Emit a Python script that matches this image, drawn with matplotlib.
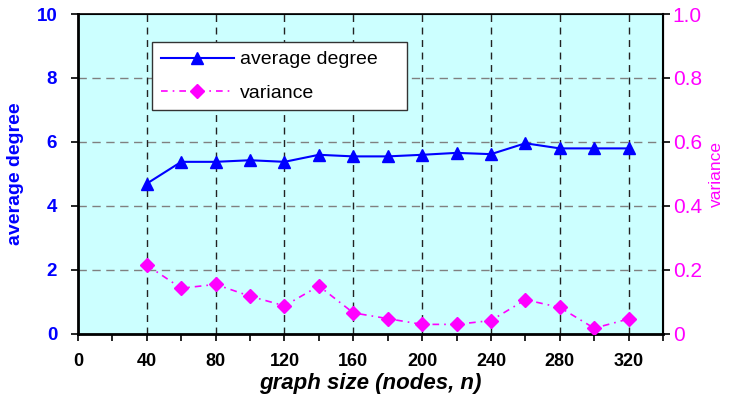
import matplotlib.pyplot as plt
from matplotlib.ticker import MultipleLocator

# graph size vs. average degree and its variance
nodes = [40, 60, 80, 100, 120, 140, 160, 180, 200, 220, 240, 260, 280, 300, 320]
avg_degree = [4.7, 5.38, 5.38, 5.43, 5.38, 5.6, 5.55, 5.55, 5.6, 5.66, 5.62, 5.96, 5.8, 5.8, 5.8]
variance = [0.215, 0.143, 0.155, 0.118, 0.088, 0.15, 0.066, 0.048, 0.03, 0.03, 0.042, 0.107, 0.083, 0.018, 0.047]
var_ticks = [0, 0.2, 0.4, 0.6, 0.8, 1.0]
var_labels = ['0', '0.2', '0.4', '0.6', '0.8', '1.0']

blue = '#0000ff'
pink = '#ff00ff'
plt.rcParams['font.family'] = ['Liberation Sans', 'DejaVu Sans']

fig = plt.figure(figsize=(7.34, 4.07), dpi=100)
ax = fig.add_axes([0.1063, 0.1794, 0.797, 0.7862])
ax.set_facecolor('#ccffff')
ax2 = ax.twinx()

ax.set_xlim(0, 340)
ax.set_ylim(0, 10)
ax2.set_ylim(0, 1.0)

# grid: grey dashed horizontals, black dashed verticals
for y in [2, 4, 6, 8]:
    ax.axhline(y, color='#808080', lw=1, ls=(0, (6, 4)), zorder=1)
for x in range(40, 321, 40):
    ax.axvline(x, color='#222222', lw=1, ls=(0, (5, 4)), zorder=1)

l1, = ax.plot(nodes, avg_degree, color=blue, lw=1.5, marker='^', ms=8, zorder=3,
              label='average degree')
l2, = ax2.plot(nodes, variance, color=pink, lw=1.2, ls=(0, (4, 3, 1, 3)), marker='D', ms=7,
               zorder=3, label='variance')

ax.xaxis.set_major_locator(MultipleLocator(40))
ax.xaxis.set_minor_locator(MultipleLocator(20))
ax.yaxis.set_major_locator(MultipleLocator(2))
ax2.set_yticks(var_ticks)
ax2.set_yticklabels(var_labels)

ax.tick_params(axis='x', which='both', direction='out', length=5, width=1.2, labelsize=13, pad=9)
ax.tick_params(axis='y', direction='out', length=5, width=1.2, labelsize=13.5, labelcolor=blue,
               pad=10)
ax2.tick_params(axis='y', direction='out', length=5, width=1.2, labelsize=15, labelcolor=pink,
                pad=2)
for t in ax.get_xticklabels() + ax.get_yticklabels():
    t.set_fontweight('bold')

ax2.spines['right'].set_linewidth(1.5)
ax2.spines['top'].set_linewidth(1.2)
ax2.spines['left'].set_linewidth(2)
ax2.spines['bottom'].set_linewidth(2)

ax.set_xlabel('graph size (nodes, n)', fontsize=16, fontweight='bold', style='italic', labelpad=2)
ax.set_ylabel('average degree', fontsize=14, fontweight='bold', color=blue, labelpad=9)
ax2.set_ylabel('variance', fontsize=12.5, color=pink, labelpad=5)

leg = ax2.legend(handles=[l1, l2], loc='upper left', bbox_to_anchor=(0.1265, 0.0, 0.436, 0.9125),
                 mode='expand', fontsize=14, frameon=True, fancybox=False, edgecolor='#333333',
                 framealpha=1, handlelength=3.75, handletextpad=0.3, borderpad=0.45,
                 labelspacing=0.8, borderaxespad=0)
leg.get_frame().set_linewidth(1)

fig.savefig('out.png', dpi=100)
